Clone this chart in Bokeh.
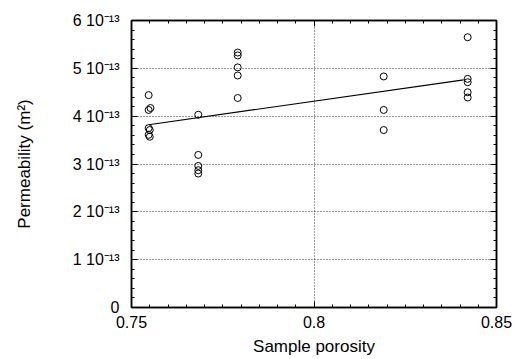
import numpy as np
from bokeh.plotting import figure
from bokeh.models import LinearAxis, FixedTicker, Range1d
from bokeh.embed import file_html
from bokeh.resources import INLINE

# ---- data ----
porosity = [0.7547, 0.7552, 0.7547, 0.7547, 0.7550, 0.7547, 0.7550,
            0.7683, 0.7683, 0.7683, 0.7683, 0.7683,
            0.7791, 0.7791, 0.7791, 0.7791, 0.7791,
            0.8191, 0.8191, 0.8191,
            0.8421, 0.8421, 0.8421, 0.8421, 0.8421]
permeability = [4.44e-13, 4.17e-13, 4.13e-13, 3.75e-13, 3.71e-13, 3.61e-13, 3.57e-13,
                4.03e-13, 3.19e-13, 2.96e-13, 2.87e-13, 2.80e-13,
                5.33e-13, 5.27e-13, 5.02e-13, 4.85e-13, 4.38e-13,
                4.83e-13, 4.13e-13, 3.71e-13,
                5.65e-13, 4.78e-13, 4.71e-13, 4.50e-13, 4.39e-13]
fit_x = [0.7547, 0.8410]
fit_y = [3.82e-13, 4.76e-13]

x_ticks = [0.75, 0.8, 0.85]
x_tick_labels = ["0.75", "0.8", "0.85"]
y_ticks = [0.0, 1e-13, 2e-13, 3e-13, 4e-13, 5e-13, 6e-13]
y_tick_labels = ["0", "1 10⁻¹³", "2 10⁻¹³", "3 10⁻¹³", "4 10⁻¹³", "5 10⁻¹³", "6 10⁻¹³"]

FONT = "Liberation Sans"

p = figure(width=516, height=359, x_range=Range1d(0.75, 0.85), y_range=Range1d(0, 6e-13),
           output_backend="svg", toolbar_location=None,
           min_border_left=131, min_border_right=20, min_border_top=20, min_border_bottom=52)
p.background_fill_color = "white"
p.border_fill_color = "white"
p.outline_line_color = "black"
p.outline_line_width = 1.5

x_minor = list(np.round(np.arange(0.75, 0.8501, 0.005), 4))
y_minor = list(np.arange(0, 6.01, 0.2) * 1e-13)
xt = FixedTicker(ticks=x_ticks, minor_ticks=x_minor)
yt = FixedTicker(ticks=y_ticks, minor_ticks=y_minor)

def style_axis(ax):
    ax.axis_line_color = "black"
    ax.axis_line_width = 1.5
    ax.major_tick_in = 6
    ax.major_tick_out = 0
    ax.minor_tick_in = 3
    ax.minor_tick_out = 0
    ax.major_tick_line_color = "black"
    ax.minor_tick_line_color = "black"
    ax.major_label_text_color = "black"
    ax.axis_label_text_color = "black"

# bottom axis
xa = p.xaxis[0]
xa.ticker = xt
style_axis(xa)
xa.major_label_overrides = {t: l for t, l in zip(x_ticks, x_tick_labels)}
xa.major_label_text_font = FONT
xa.major_label_text_font_size = "16px"
xa.major_label_standoff = 8
xa.axis_label = "Sample porosity"
xa.axis_label_text_font = FONT
xa.axis_label_text_font_size = "17px"
xa.axis_label_text_font_style = "normal"
xa.axis_label_standoff = 6

# left axis
ya = p.yaxis[0]
ya.ticker = yt
style_axis(ya)
ya.major_label_overrides = {t: l for t, l in zip(y_ticks, y_tick_labels)}
ya.major_label_text_font = FONT
ya.major_label_text_font_size = "16px"
ya.major_label_standoff = 12
ya.axis_label = "Permeability (m²)"
ya.axis_label_text_font = FONT
ya.axis_label_text_font_size = "17px"
ya.axis_label_text_font_style = "normal"
ya.axis_label_standoff = 36

# top & right axes (ticks only)
top = LinearAxis(ticker=xt, major_label_overrides={t: "" for t in x_ticks},
                 major_label_text_font_size="0px", major_label_standoff=0)
style_axis(top)
right = LinearAxis(ticker=yt, major_label_overrides={t: "" for t in y_ticks},
                   major_label_text_font_size="0px", major_label_standoff=0)
style_axis(right)
p.add_layout(top, "above")
p.add_layout(right, "right")

# grid
for g in (p.xgrid[0], p.ygrid[0]):
    g.grid_line_color = "#333333"
    g.grid_line_dash = "1 2"
    g.grid_line_width = 1
p.xgrid[0].ticker = xt
p.ygrid[0].ticker = yt

# data
p.line(fit_x, fit_y, line_color="black", line_width=1.2)
p.scatter(porosity, permeability, marker="circle", size=7, fill_color=None,
          line_color="black", line_width=1)

open("out.html", "w").write(file_html(p, INLINE))
